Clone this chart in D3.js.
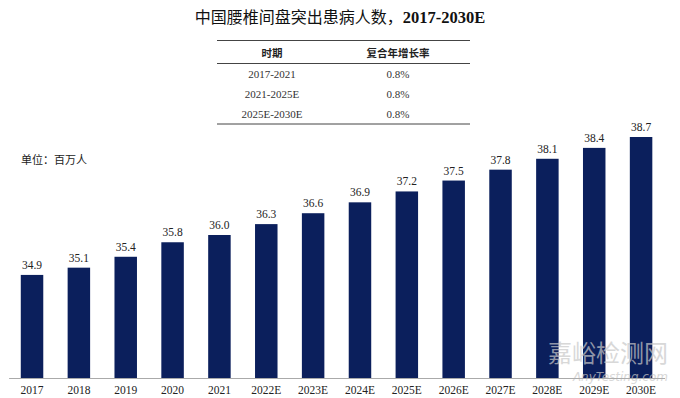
<!DOCTYPE html>
<html><head><meta charset="utf-8">
<script src="https://cdn.jsdelivr.net/npm/d3@7"></script>
<style>body{margin:0;background:#fff}svg{display:block}</style>
</head><body>
<svg id="c" width="680" height="398"></svg>
<script>
const categories = ["2017","2018","2019","2020","2021","2022E","2023E","2024E","2025E","2026E","2027E","2028E","2029E","2030E"];
const values = [34.9,35.1,35.4,35.8,36.0,36.3,36.6,36.9,37.2,37.5,37.8,38.1,38.4,38.7];
const tablePeriods = ["2017-2021","2021-2025E","2025E-2030E"];
const tableCagr = ["0.8%","0.8%","0.8%"];
const title = "中国腰椎间盘突出患病人数，";
const titleYears = "2017-2030E";

const svg = d3.select("#c");
const serif = "'Liberation Serif','Times New Roman',serif";
const cjk = "'Noto Sans CJK SC',sans-serif";

// Title
const t = svg.append("text").attr("x",340).attr("y",23).attr("text-anchor","middle")
  .attr("font-size",16).attr("font-weight","bold").attr("fill","#111");
t.append("tspan").attr("font-family",cjk).attr("font-weight","normal").attr("font-size",16).text(title);
t.append("tspan").attr("font-family",serif).attr("font-size",16.5).text(titleYears);

// Table
const tx0 = 217, tx1 = 470;
const lines = [40.5, 63.5, 124];
svg.selectAll("line.tb").data(lines).join("line").attr("class","tb")
  .attr("x1",tx0).attr("x2",tx1).attr("y1",d=>d).attr("y2",d=>d)
  .attr("stroke","#444").attr("stroke-width",1);
svg.append("text").attr("x",272).attr("y",57).attr("text-anchor","middle")
  .attr("font-family",cjk).attr("font-weight","bold").attr("font-size",10.5).attr("fill","#222").text("时期");
svg.append("text").attr("x",398).attr("y",57).attr("text-anchor","middle")
  .attr("font-family",cjk).attr("font-weight","bold").attr("font-size",10.5).attr("fill","#222").text("复合年增长率");
const rowY = [78, 98, 118];
svg.selectAll("text.p").data(tablePeriods).join("text").attr("class","p")
  .attr("x",272).attr("y",(d,i)=>rowY[i]).attr("text-anchor","middle")
  .attr("font-family",serif).attr("font-size",11).attr("fill","#333").text(d=>d);
svg.selectAll("text.g").data(tableCagr).join("text").attr("class","g")
  .attr("x",398).attr("y",(d,i)=>rowY[i]).attr("text-anchor","middle")
  .attr("font-family",serif).attr("font-size",11).attr("fill","#333").text(d=>d);

// Unit
svg.append("text").attr("x",21).attr("y",164).attr("font-family",cjk).attr("font-size",11)
  .attr("fill","#222").text("单位：百万人");

// Scales
const x = d3.scaleBand().domain(categories).range([8.6,664.5]).paddingInner(0.52).paddingOuter(0.26);
const y = d3.scaleLinear().domain([32.06,38.7]).range([378,137]);

svg.selectAll("rect.bar").data(values).join("rect").attr("class","bar")
  .attr("x",(d,i)=>x(categories[i])).attr("width",x.bandwidth())
  .attr("y",d=>y(d)).attr("height",d=>378-y(d)).attr("fill","#0b1f5c");

svg.selectAll("text.v").data(values).join("text").attr("class","v")
  .attr("x",(d,i)=>x(categories[i])+x.bandwidth()/2).attr("y",d=>y(d)-6)
  .attr("text-anchor","middle").attr("font-family",serif).attr("font-size",11.5).attr("fill","#222")
  .text(d=>d.toFixed(1));

// Watermark (drawn behind axis labels)
svg.append("text").attr("x",668).attr("y",362).attr("text-anchor","end").attr("font-family",cjk)
  .attr("font-size",24).attr("fill","#c8c8c8").attr("opacity",0.7).text("嘉峪检测网");
svg.append("text").attr("x",668).attr("y",381).attr("text-anchor","end").attr("font-family","'DejaVu Sans',sans-serif")
  .attr("font-style","italic").attr("font-size",12).attr("fill","#c8c8c8").attr("opacity",0.7).text("AnyTesting.com");

// Axis
const ax = svg.append("g").attr("transform","translate(0,378)")
  .call(d3.axisBottom(x).tickSize(0).tickPadding(8));
ax.select(".domain").attr("stroke","#aaa").attr("stroke-width",1.2);
ax.selectAll("text").attr("font-family",serif).attr("font-size",11.5).attr("fill","#222");
</script>
</body></html>
